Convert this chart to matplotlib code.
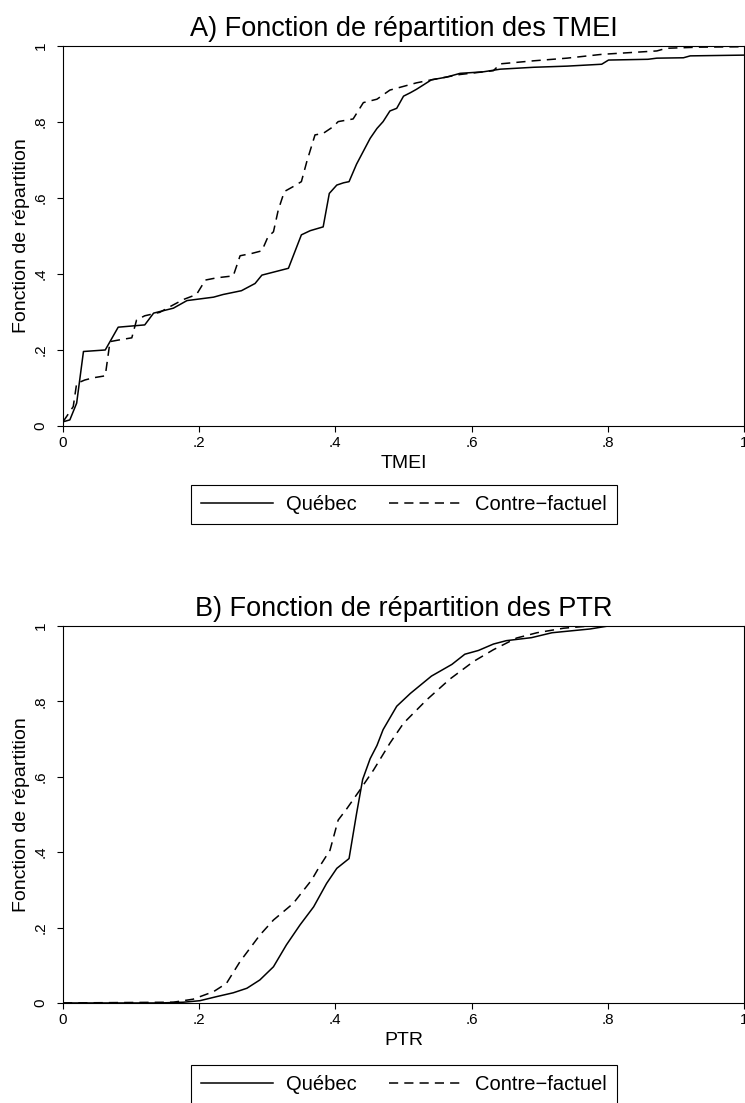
import matplotlib
matplotlib.use("Agg")
import matplotlib.pyplot as plt

plt.rcParams['font.family'] = ['Liberation Sans', 'DejaVu Sans']

# Panel A: TMEI cumulative distribution
tmei_qc_x = [0.0, 0.010, 0.020, 0.030, 0.062, 0.081, 0.120, 0.133, 0.162, 0.182, 0.221, 0.235,
             0.262, 0.282, 0.292, 0.331, 0.350, 0.363, 0.382, 0.391, 0.402, 0.412, 0.420, 0.431,
             0.451, 0.461, 0.470, 0.480, 0.490, 0.500, 0.510, 0.519, 0.541, 0.563, 0.583, 0.617,
             0.642, 0.691, 0.740, 0.791, 0.801, 0.859, 0.872, 0.911, 0.921, 1.0]
tmei_qc_y = [0.011, 0.016, 0.060, 0.196, 0.200, 0.260, 0.266, 0.297, 0.310, 0.330, 0.339, 0.346,
             0.356, 0.375, 0.397, 0.415, 0.503, 0.514, 0.524, 0.612, 0.634, 0.640, 0.643, 0.689,
             0.757, 0.783, 0.801, 0.829, 0.836, 0.868, 0.877, 0.886, 0.911, 0.918, 0.928, 0.932,
             0.939, 0.944, 0.947, 0.952, 0.963, 0.965, 0.968, 0.969, 0.974, 0.976]
tmei_cf_x = [0.0, 0.015, 0.020, 0.032, 0.045, 0.062, 0.069, 0.081, 0.101, 0.108, 0.120, 0.142,
             0.157, 0.177, 0.196, 0.209, 0.226, 0.250, 0.260, 0.277, 0.292, 0.301, 0.309, 0.316,
             0.325, 0.338, 0.350, 0.358, 0.370, 0.382, 0.397, 0.404, 0.426, 0.441, 0.461, 0.480,
             0.519, 0.541, 0.583, 0.632, 0.642, 0.691, 0.740, 0.791, 0.872, 0.886, 0.935, 1.0]
tmei_cf_y = [0.011, 0.051, 0.112, 0.121, 0.127, 0.132, 0.222, 0.226, 0.232, 0.279, 0.290, 0.299,
             0.314, 0.333, 0.346, 0.384, 0.390, 0.395, 0.448, 0.454, 0.461, 0.498, 0.511, 0.568,
             0.617, 0.630, 0.643, 0.696, 0.766, 0.770, 0.788, 0.801, 0.808, 0.851, 0.860, 0.884,
             0.903, 0.911, 0.925, 0.935, 0.953, 0.961, 0.968, 0.978, 0.987, 0.994, 0.997, 0.998]

# Panel B: PTR cumulative distribution
ptr_qc_x = [0.0, 0.142, 0.177, 0.201, 0.226, 0.250, 0.270, 0.289, 0.309, 0.328, 0.348, 0.368,
            0.387, 0.402, 0.420, 0.431, 0.440, 0.451, 0.461, 0.470, 0.490, 0.510, 0.541, 0.571,
            0.590, 0.610, 0.632, 0.651, 0.688, 0.718, 0.774, 0.801, 1.0]
ptr_qc_y = [0.0, 0.0, 0.002, 0.006, 0.017, 0.027, 0.039, 0.061, 0.096, 0.154, 0.207, 0.255,
            0.317, 0.357, 0.383, 0.502, 0.593, 0.648, 0.683, 0.725, 0.787, 0.821, 0.867, 0.898,
            0.925, 0.935, 0.952, 0.961, 0.969, 0.982, 0.992, 1.0, 1.0]
ptr_cf_x = [0.0, 0.162, 0.191, 0.221, 0.240, 0.260, 0.289, 0.309, 0.338, 0.365, 0.375, 0.392,
            0.404, 0.417, 0.436, 0.456, 0.480, 0.500, 0.534, 0.568, 0.603, 0.632, 0.666, 0.696,
            0.735, 0.774, 1.0]
ptr_cf_y = [0.0, 0.002, 0.010, 0.030, 0.052, 0.110, 0.180, 0.220, 0.264, 0.326, 0.357, 0.405,
            0.485, 0.516, 0.565, 0.618, 0.689, 0.742, 0.804, 0.859, 0.906, 0.937, 0.968, 0.982,
            0.994, 1.0, 1.0]

ticks = [0, 0.2, 0.4, 0.6, 0.8, 1.0]
tick_labels = ['0', '.2', '.4', '.6', '.8', '1']
series_labels = ['Québec', 'Contre\u2212factuel']

panels = [
    ('A) Fonction de répartition des TMEI', 'TMEI', tmei_qc_x, tmei_qc_y, tmei_cf_x, tmei_cf_y,
     [0.0846, 0.6138, 0.9141, 0.3445], -0.155),
    ('B) Fonction de répartition des PTR', 'PTR', ptr_qc_x, ptr_qc_y, ptr_cf_x, ptr_cf_y,
     [0.0846, 0.0907, 0.9141, 0.3418], -0.164),
]

fig = plt.figure(figsize=(7.45, 11.03), dpi=100)

for title, xlabel, qx, qy, cx, cy, rect, leg_y in panels:
    ax = fig.add_axes(rect)
    ax.plot(qx, qy, color='black', lw=1.1, label=series_labels[0])
    ax.plot(cx, cy, color='black', lw=1.1, linestyle=(0, (6, 4)), label=series_labels[1])
    ax.set_xlim(0, 1)
    ax.set_ylim(0, 1)
    ax.set_xticks(ticks)
    ax.set_xticklabels(tick_labels)
    ax.set_yticks(ticks)
    ax.set_yticklabels(tick_labels, rotation=90, va='center')
    ax.tick_params(direction='out', length=4, width=0.8, labelsize=11)
    ax.tick_params(axis='x', pad=3)
    ax.tick_params(axis='y', pad=7)
    for s in ax.spines.values():
        s.set_linewidth(0.8)
    ax.set_title(title, fontsize=19.5, pad=7)
    ax.set_xlabel(xlabel, fontsize=14, labelpad=4)
    ax.set_ylabel('Fonction de répartition', fontsize=14, labelpad=3)
    leg = ax.legend(loc='upper center', bbox_to_anchor=(0.5, leg_y), ncol=2,
                    fontsize=14.5, frameon=True, fancybox=False, edgecolor='black',
                    framealpha=1, handlelength=3.6, handletextpad=0.65, columnspacing=1.6,
                    borderpad=0.5, borderaxespad=0)
    leg.get_frame().set_linewidth(0.8)

fig.savefig('out.png', dpi=100)
